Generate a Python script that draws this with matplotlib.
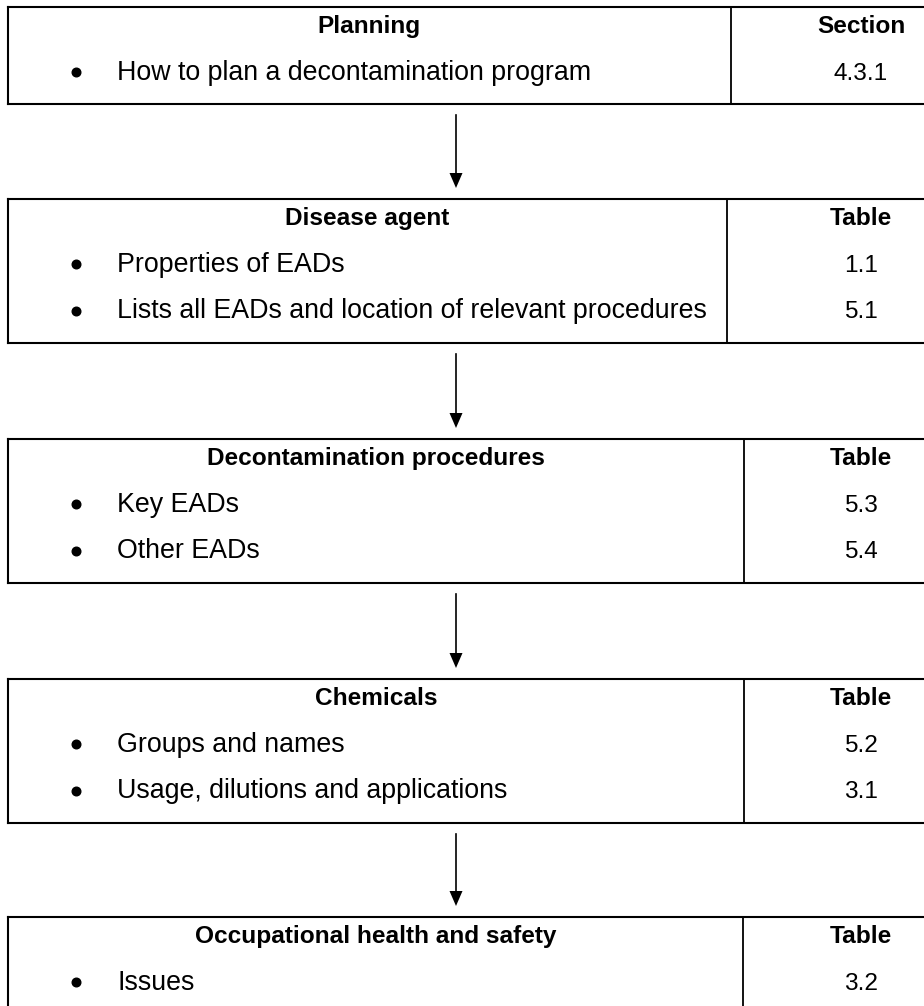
import matplotlib
matplotlib.use("Agg")
import matplotlib.pyplot as plt
from matplotlib.patches import Polygon

# ---- content ----
headings = ["Planning", "Disease agent", "Decontamination procedures",
            "Chemicals", "Occupational health and safety"]
ref_headers = ["Section", "Table", "Table", "Table", "Table"]
items = [["How to plan a decontamination program"],
         ["Properties of EADs", "Lists all EADs and location of relevant procedures"],
         ["Key EADs", "Other EADs"],
         ["Groups and names", "Usage, dilutions and applications"],
         ["Issues"]]
refs = [["4.3.1"], ["1.1", "5.1"], ["5.3", "5.4"], ["5.2", "3.1"], ["3.2"]]

# ---- layout (pixels) ----
W, H = 924, 1006
tops = [7, 199, 439, 679, 917]
dividers = [731, 727, 744, 744, 743]
left = 7.5
right = W + 10
ref_x = 861
bullet_x = 76
text_x = 117
arrow_x = 456
FS = 17.6
FS_ITEM = 19.3
FONT = ["Liberation Sans", "DejaVu Sans"]

fig = plt.figure(figsize=(W / 100, H / 100), dpi=100)
ax = fig.add_axes([0, 0, 1, 1])
ax.set_xlim(0, W)
ax.set_ylim(H, 0)
ax.axis("off")

bottoms = []
for k, (head, rh, its, rs) in enumerate(zip(headings, ref_headers, items, refs)):
    top = tops[k]
    bottom = top + 50 + 47.2 * len(its)
    bottoms.append(bottom)
    div = dividers[k]
    lw = 1.5
    ax.plot([left, right], [top, top], color="black", lw=lw, solid_capstyle="projecting")
    ax.plot([left, right], [bottom, bottom], color="black", lw=lw, solid_capstyle="projecting")
    ax.plot([left, left], [top, bottom], color="black", lw=lw, solid_capstyle="projecting")
    ax.plot([div, div], [top, bottom], color="black", lw=1.3)
    ax.text((left + div) / 2, top + 26, head, ha="center", va="baseline",
            fontsize=FS, fontweight="bold", family=FONT)
    ax.text(ref_x, top + 26, rh, ha="center", va="baseline",
            fontsize=FS, fontweight="bold", family=FONT)
    for i, (it, r) in enumerate(zip(its, rs)):
        yb = top + 26 + 46.5 * (i + 1)
        ax.plot([bullet_x], [yb - 7.5], marker="o", ms=6.2, color="black", mec="black")
        ax.text(text_x, yb, it, ha="left", va="baseline", fontsize=FS_ITEM, family=FONT)
        ax.text(ref_x, yb, r, ha="center", va="baseline", fontsize=FS, family=FONT)

# arrows between boxes
for k in range(len(tops) - 1):
    y0 = bottoms[k] + 11
    tip = tops[k + 1] - 11
    head_len = 15
    ax.plot([arrow_x, arrow_x], [y0, tip - head_len + 1], color="black", lw=1.2)
    ax.add_patch(Polygon([[arrow_x - 6.5, tip - head_len], [arrow_x + 6.5, tip - head_len],
                          [arrow_x, tip]], closed=True, color="black", lw=0))

fig.savefig("out.png", dpi=100)
